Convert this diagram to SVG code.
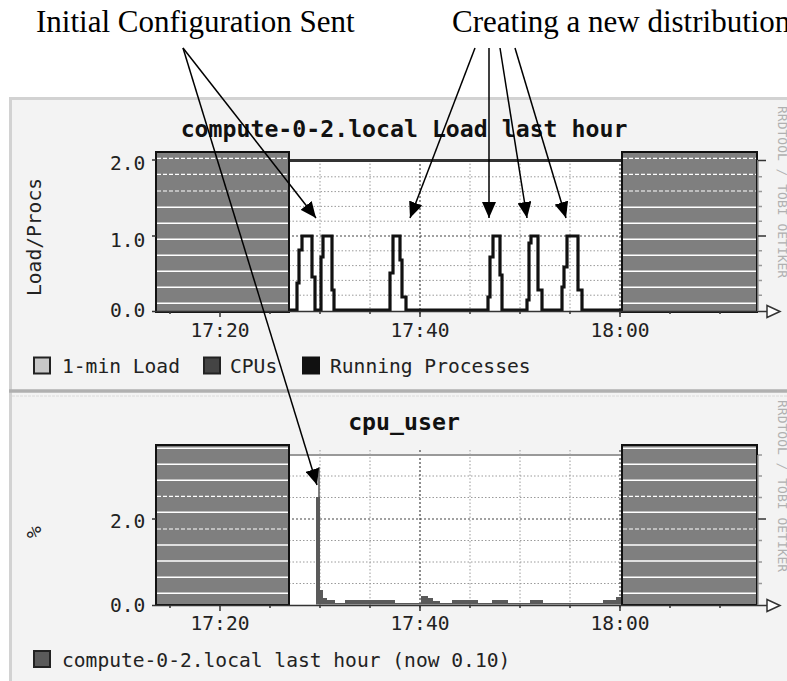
<svg xmlns="http://www.w3.org/2000/svg" width="787" height="681" viewBox="0 0 787 681">
<defs>
<marker id="ah" markerUnits="userSpaceOnUse" markerWidth="16" markerHeight="14" refX="16" refY="7" orient="auto">
<path d="M0,0 L16,7 L0,14 z" fill="#000"/>
</marker>
<style>
.ann{font-family:"Liberation Serif","Times New Roman",serif;font-size:31px;fill:#000}
.mono{font-family:"DejaVu Sans Mono","Liberation Mono",monospace;font-size:19.6px;fill:#222}
.title{font-family:"DejaVu Sans Mono","Liberation Mono",monospace;font-size:23.2px;font-weight:bold;fill:#111}
.wm{font-family:"DejaVu Sans Mono","Liberation Mono",monospace;font-size:13px;fill:#b0b0b0}
.grid{stroke:#9a9a9a;stroke-width:1;stroke-dasharray:1.5 2;fill:none}
.gridM{stroke:#444;stroke-width:1.2;stroke-dasharray:2 2;fill:none}
.blk{fill:#7f7f7f;stroke:#111;stroke-width:2}
.wl{stroke:#fff;stroke-width:1.5}
.wld{stroke:#fff;stroke-width:1.2;stroke-dasharray:4 2}
.axis{stroke:#333;stroke-width:1.5;fill:none}
.rax{stroke:#999;stroke-width:1.5;fill:none}
.arrow{stroke:#000;stroke-width:1.5;fill:none;marker-end:url(#ah)}
</style>
</defs>
<rect x="0" y="0" width="787" height="681" fill="#fff"/>

<g id="label-initial"><text class="ann" x="36" y="32">Initial Configuration Sent</text></g>
<g id="label-creating"><text class="ann" x="452" y="32">Creating a new distribution</text></g>

<!-- outer panel frame -->
<rect x="9" y="97" width="790" height="600" fill="#f3f3f3"/>
<rect x="10.5" y="98.5" width="790" height="600" fill="none" stroke="#d2d2d2" stroke-width="3"/>

<g id="panel-load">
<text class="title" x="404" y="137" text-anchor="middle">compute-0-2.local Load last hour</text>
<text class="mono" transform="translate(41,237) rotate(-90)" text-anchor="middle">Load/Procs</text>
<text class="wm" transform="translate(778,106) rotate(90)">RRDTOOL / TOBI OETIKER</text>
<rect x="156" y="160" width="602" height="151" fill="#fff"/>
<g class="grid">
<path d="M156 295.2H758M156 280.4H758M156 265.6H758M156 250.8H758M156 221.2H758M156 206.4H758M156 191.6H758M156 176.8H758"/>
<path d="M320 160V311M370 160V311M470 160V311M520 160V311M570 160V311"/>
</g>
<g class="gridM"><path d="M156 236H758M420 160V314M620 160V314"/></g>
<path d="M289 160.5H622" stroke="#333" stroke-width="3"/>
<g>
<rect class="blk" x="156" y="152" width="133" height="160"/>
<rect class="blk" x="622" y="152" width="135" height="160"/>
<path class="wld" d="M157 158.3H288M157 174.3H288M157 191H288M623 158.3H756M623 174.3H756M623 191H756"/>
<path class="wl" d="M157 207.3H288M157 223.3H288M157 239.3H288M157 255.3H288M157 271.3H288M157 287.3H288M157 303.3H288M623 207.3H756M623 223.3H756M623 239.3H756M623 255.3H756M623 271.3H756M623 287.3H756M623 303.3H756"/>
</g>
<polyline fill="none" stroke="#111" stroke-width="3.2" stroke-linejoin="miter" points="289,310 297,310 297,283 299,283 299,250 302,250 302,236 312,236 312,277 315,277 315,310 321,310 321,257 323,257 323,236 332,236 332,290 334,290 334,310 390,310 390,273 393,273 393,236 400,236 400,260 402,260 402,297 406,297 406,310 488,310 488,297 490,297 490,257 493,257 493,236 500,236 500,275 502,275 502,310 527,310 527,300 529,300 529,243 531,243 531,236 538,236 538,290 542,290 542,310 562,310 562,287 564,287 564,267 567,267 567,236 578,236 578,290 582,290 582,310 622,310"/>
<path class="axis" d="M152 311.5H767M152 160H156M152 236H156"/>
<path d="M170 311v3M270 311v3M320 311v3M370 311v3M470 311v3M520 311v3M570 311v3M670 311v3M720 311v3M220 311v6M420 311v6M620 311v6" stroke="#333" stroke-width="1.5"/>
<path class="rax" d="M758 160V311"/>
<path d="M758 176.8h4M758 191.6h4M758 206.4h4M758 221.2h4M758 250.8h4M758 265.6h4M758 280.4h4M758 295.2h4" stroke="#999" stroke-width="1.5"/>
<path d="M758 160.5h8M758 236h8" stroke="#333" stroke-width="1.5"/>
<path d="M767 305.5L780 311.5L767 317.5Z" fill="#fff" stroke="#333" stroke-width="1.5"/>
<text class="mono" x="110" y="170">2.0</text>
<text class="mono" x="110" y="247">1.0</text>
<text class="mono" x="110" y="317">0.0</text>
<text class="mono" x="220" y="337" text-anchor="middle">17:20</text>
<text class="mono" x="420" y="337" text-anchor="middle">17:40</text>
<text class="mono" x="620" y="337" text-anchor="middle">18:00</text>
<rect x="34" y="357.5" width="16" height="16" fill="#c8c8c8" stroke="#222" stroke-width="2"/>
<text class="mono" x="62" y="373">1-min Load</text>
<rect x="204" y="357.5" width="16" height="16" fill="#444" stroke="#222" stroke-width="2"/>
<text class="mono" x="230" y="373">CPUs</text>
<rect x="303" y="357.5" width="16" height="16" fill="#111" stroke="#111" stroke-width="2"/>
<text class="mono" x="330" y="373">Running Processes</text>
</g>

<g id="divider">
<path d="M9 391H787" stroke="#b0b0b0" stroke-width="3.5"/>
<path d="M12 396H787" stroke="#dadada" stroke-width="1" stroke-dasharray="3 1"/>
</g>

<g id="panel-cpu">
<text class="title" x="404" y="430" text-anchor="middle">cpu_user</text>
<text class="mono" transform="translate(41,532) rotate(-90)" text-anchor="middle">%</text>
<text class="wm" transform="translate(778,400) rotate(90)">RRDTOOL / TOBI OETIKER</text>
<rect x="156" y="455" width="602" height="150" fill="#fff"/>
<g class="grid">
<path d="M156 583.5H758M156 562H758M156 540.5H758M156 497.5H758M156 476H758"/>
<path d="M320 450V605M370 450V605M470 450V605M520 450V605M570 450V605"/>
</g>
<g class="gridM"><path d="M156 519H758M420 450V608M620 450V608"/></g>
<path d="M289 455H622" stroke="#999" stroke-width="1.8"/>
<path d="M289 604.5 L316 604.5 L316 497 L320 497 L320 590 L323 590 L323 598 L327 598 L327 600 L335 600 L335 603 L345 603 L345 600 L395 600 L395 603 L421 603 L421 596 L428 596 L428 598 L433 598 L433 601 L440 601 L440 603 L452 603 L452 600 L478 600 L478 603 L492 603 L492 600 L508 600 L508 603 L530 603 L530 600 L543 600 L543 603 L603 603 L603 600 L616 600 L616 597 L622 597 L622 604.5 Z" fill="#5a5a5a"/>
<path d="M319 467V497" stroke="#555" stroke-width="1.5"/>
<g>
<rect class="blk" x="156" y="445" width="133" height="160"/>
<rect class="blk" x="622" y="445" width="135" height="160"/>
<path class="wl" d="M157 448.3H288M157 464.3H288M157 480.3H288M157 512.3H288M157 545H288M157 561H288M157 577.3H288M157 593.3H288M623 448.3H756M623 464.3H756M623 480.3H756M623 512.3H756M623 545H756M623 561H756M623 577.3H756M623 593.3H756"/>
<path class="wld" d="M157 496.3H288M157 529H288M623 496.3H756M623 529H756"/>
</g>
<path class="axis" d="M152 605.5H767M152 519H156"/>
<path d="M170 605v3M270 605v3M320 605v3M370 605v3M470 605v3M520 605v3M570 605v3M670 605v3M720 605v3M220 605v6M420 605v6M620 605v6" stroke="#333" stroke-width="1.5"/>
<path class="rax" d="M758 455V605"/>
<path d="M758 455h4M758 476h4M758 497.5h4M758 540.5h4M758 562h4M758 583.5h4" stroke="#999" stroke-width="1.5"/>
<path d="M758 519h8" stroke="#333" stroke-width="1.5"/>
<path d="M767 599.5L780 605.5L767 611.5Z" fill="#fff" stroke="#333" stroke-width="1.5"/>
<text class="mono" x="110" y="528">2.0</text>
<text class="mono" x="110" y="612">0.0</text>
<text class="mono" x="220" y="630" text-anchor="middle">17:20</text>
<text class="mono" x="420" y="630" text-anchor="middle">17:40</text>
<text class="mono" x="620" y="630" text-anchor="middle">18:00</text>
<rect x="34" y="651" width="16" height="16" fill="#5a5a5a" stroke="#222" stroke-width="2"/>
<text class="mono" x="62" y="667">compute-0-2.local last hour (now 0.10)</text>
</g>

<g id="arrows">
<path class="arrow" d="M183 48L316 218"/>
<path class="arrow" d="M183 48L317 485"/>
<path class="arrow" d="M475 48L410 218"/>
<path class="arrow" d="M489 48L489 218"/>
<path class="arrow" d="M500 48L527 218"/>
<path class="arrow" d="M515 48L566 218"/>
</g>
</svg>
